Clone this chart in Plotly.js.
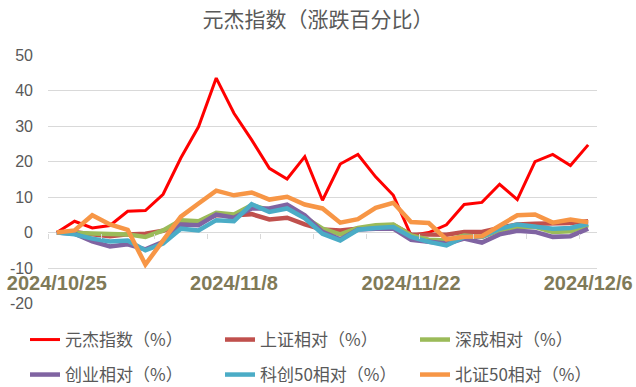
<!DOCTYPE html>
<html>
<head>
<meta charset="utf-8">
<script src="https://cdn.plot.ly/plotly-3.0.1.min.js"></script>
<style>html,body{margin:0;padding:0;background:#fff;}#chart{width:636px;height:387px;}</style>
</head>
<body>
<div id="chart"></div>
<script>
const dates = ["2024/10/25","2024/10/28","2024/10/29","2024/10/30","2024/10/31","2024/11/1",
  "2024/11/4","2024/11/5","2024/11/6","2024/11/7","2024/11/8",
  "2024/11/11","2024/11/12","2024/11/13","2024/11/14","2024/11/15",
  "2024/11/18","2024/11/19","2024/11/20","2024/11/21","2024/11/22",
  "2024/11/25","2024/11/26","2024/11/27","2024/11/28","2024/11/29",
  "2024/12/2","2024/12/3","2024/12/4","2024/12/5","2024/12/6"];
const labelDates = ["2024/10/25","2024/11/8","2024/11/22","2024/12/6"];
const yTicks = [-20,-10,0,10,20,30,40,50];
const yuanjie   = [0,3.2,1.3,2.0,6.0,6.2,10.8,21.0,29.8,43.5,33.6,26.1,18.1,15.1,21.4,9.1,19.3,22.0,15.7,10.5,-0.8,0.0,2.2,7.9,8.5,13.6,9.3,20.0,22.0,18.9,24.7];
const shangzheng= [0,0.2,-0.5,-1.0,-0.5,-0.3,0.5,2.5,3.0,4.9,4.9,5.2,3.7,4.2,2.3,0.9,0.6,1.1,1.8,2.1,-0.5,-0.6,-0.6,0.2,0.2,1.3,2.3,2.5,2.5,2.7,3.2];
const shencheng = [0,-0.2,-0.3,-0.3,-0.5,-1.2,0.6,3.5,3.2,5.6,5.1,7.7,6.3,7.5,4.4,1.1,-0.5,1.3,2.1,2.3,-0.8,-2.0,-2.2,-0.8,-1.2,0.6,1.6,1.6,0.2,0.4,2.1];
const chuangye  = [0,-0.3,-2.5,-3.9,-3.3,-4.7,-2.6,2.3,2.1,5.1,4.2,6.8,6.8,7.9,4.9,0.2,-1.9,0.9,1.1,1.1,-2.0,-2.6,-3.1,-1.7,-2.8,-0.5,0.5,0.2,-1.2,-1.0,1.1];
const kechuang  = [0,-0.5,-1.7,-2.5,-2.2,-5.0,-3.1,1.1,0.6,3.5,3.2,8.0,5.8,6.8,4.0,-0.3,-2.2,0.8,1.3,1.6,-1.2,-2.6,-3.6,-1.2,-1.2,1.1,2.3,1.8,1.1,1.3,2.5];
const beizheng  = [0,0.6,4.9,2.3,0.8,-9.0,-2.2,4.5,8.2,11.8,10.5,11.3,9.3,10.1,7.9,6.8,2.8,3.8,7.0,8.4,3.0,2.7,-1.9,-1.2,-1.0,2.1,4.9,5.1,2.8,3.7,2.9];
const seriesNames = ["元杰指数（%）","上证相对（%）","深成相对（%）","创业相对（%）","科创50相对（%）","北证50相对（%）"];
const seriesData = [yuanjie, shangzheng, shencheng, chuangye, kechuang, beizheng];
const colors = ["#FF0000","#C0504D","#9BBB59","#8064A2","#4BACC6","#F79646"];
const widths = [3, 4.5, 4.5, 4.5, 4.5, 4.5];

const xIdx = dates.map((d, i) => i);
const CJK = '"Noto Sans CJK SC", "Noto Sans", sans-serif';
const legendKeys = ['legend','legend2','legend3','legend4','legend5','legend6'];
const legendX = [25, 220, 415];
const legendY = [340, 375];

const traces = seriesData.map((vals, k) => ({
  type: 'scatter', mode: 'lines', x: xIdx, y: vals, name: seriesNames[k],
  line: {color: colors[k], width: widths[k]},
  legend: legendKeys[k]
}));

const layout = {
  width: 636, height: 387,
  paper_bgcolor: '#fff', plot_bgcolor: '#fff',
  margin: {l: 48, r: 39, t: 55, b: 83, autoexpand: false},
  showlegend: true,
  title: {text: '元杰指数（涨跌百分比）', xref: 'container', yref: 'container', x: 0.5, xanchor: 'center', y: 1 - 20/387, yanchor: 'middle',
    font: {family: CJK, size: 21, color: '#595959'}},
  xaxis: {
    type: 'linear', range: [-0.5, dates.length - 0.5],
    anchor: 'free', position: 20.1/70.1,
    showgrid: false, zeroline: false, showline: false,
    tickmode: 'array', tickvals: labelDates.map(d => dates.indexOf(d)), ticktext: labelDates,
    ticks: '', ticklabelstandoff: 36,
    tickfont: {family: '"Liberation Sans", Arial, sans-serif', size: 20, color: '#7F7A58', weight: 'bold'},
    minor: {ticks: 'outside', tickmode: 'linear', tick0: -0.5, dtick: 3, ticklen: 5, tickcolor: '#D9D9D9', tickwidth: 1, showgrid: false}
  },
  yaxis: {
    range: [-20.1, 50], tickmode: 'array', tickvals: yTicks, ticktext: yTicks.map(String),
    showgrid: true, gridcolor: '#D9D9D9', gridwidth: 1,
    zeroline: false, showline: false, ticks: '', ticklabelstandoff: 14,
    tickfont: {family: '"Liberation Sans", Arial, sans-serif', size: 16, color: '#595959'}
  }
};
legendKeys.forEach((key, k) => {
  layout[key] = {
    orientation: 'h', xref: 'container', yref: 'container',
    xanchor: 'left', yanchor: 'middle',
    x: legendX[k % 3] / 636, y: 1 - legendY[Math.floor(k / 3)] / 387,
    itemwidth: 30, bgcolor: 'rgba(0,0,0,0)', borderwidth: 0,
    font: {family: CJK, size: 17, color: '#595959'}
  };
});

Plotly.newPlot('chart', traces, layout, {displayModeBar: false, staticPlot: true});
</script>
</body>
</html>
